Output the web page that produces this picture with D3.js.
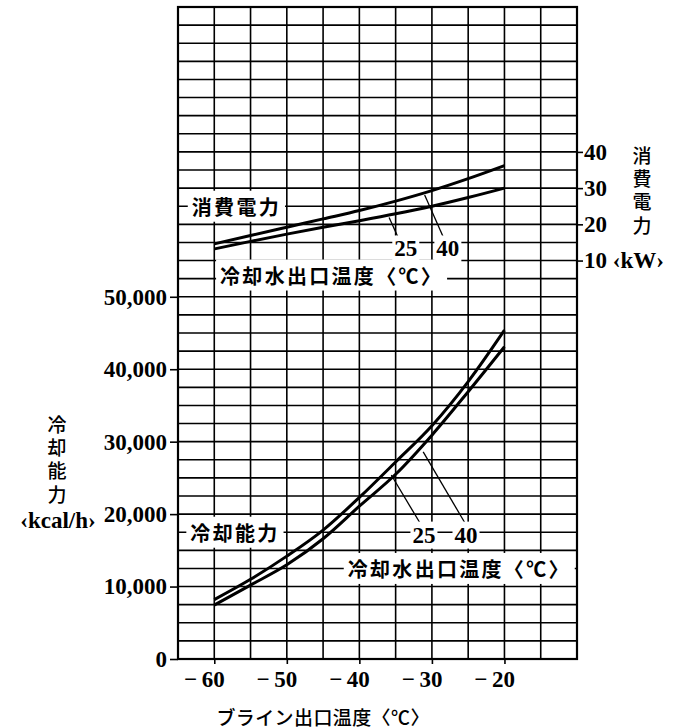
<!DOCTYPE html>
<html><head><meta charset="utf-8">
<script src="https://cdn.jsdelivr.net/npm/d3@7"></script>
<style>body{margin:0;background:#fff} svg{display:block}</style>
</head><body>
<script>
// ---- data ----
const brineTemp = [-60, -55, -50, -45, -40, -35, -30, -25, -20];
const power25 = [13.2, 15.3, 17.3, 19.2, 21.0, 22.9, 25.0, 27.4, 30.0];
const power40 = [14.6, 16.9, 19.2, 21.5, 23.8, 26.4, 29.3, 32.6, 36.2];
const capacity25 = [8200, 11000, 14200, 17800, 22300, 27200, 32200, 38300, 45400];
const capacity40 = [7450, 10200, 13000, 16600, 21100, 25500, 30900, 36900, 43100];
const xTicks = [-60, -50, -40, -30, -20];
const capTicks = [0, 10000, 20000, 30000, 40000, 50000];
const kwTicks = [10, 20, 30, 40];
const coolWaterTemps = ["25", "40"];

const SERIF = "'Liberation Serif','Times New Roman',serif";
const CJK = "'Noto Sans CJK JP','Noto Sans CJK SC',sans-serif";

const W = 674, H = 728;
const svg = d3.select("body").append("svg").attr("width", W).attr("height", H);

const x = d3.scaleLinear().domain([-65, -10]).range([178, 577]);
const y = d3.scaleLinear().domain([0, 90000]).range([659, 7]);
const yKW = d3.scaleLinear().domain([0, 80]).range([y(50000), y(90000)]);

// ---- grid ----
const grid = svg.append("g").attr("stroke", "#000").attr("stroke-width", 1.6);
grid.selectAll("line.v").data(d3.range(-65, -9, 5)).join("line")
  .attr("x1", d => x(d)).attr("x2", d => x(d)).attr("y1", y(0)).attr("y2", y(90000));
grid.selectAll("line.h").data(d3.range(0, 90001, 2500)).join("line")
  .attr("y1", d => y(d)).attr("y2", d => y(d)).attr("x1", x(-65)).attr("x2", x(-10));
svg.append("rect").attr("x", x(-65)).attr("y", y(90000))
  .attr("width", x(-10) - x(-65)).attr("height", y(0) - y(90000))
  .attr("fill", "none").attr("stroke", "#000").attr("stroke-width", 2.2);

// ---- axes ----
function styleAxis(g) {
  g.select(".domain").remove();
  g.selectAll(".tick line").attr("stroke", "#000").attr("stroke-width", 1.6);
  g.selectAll(".tick text").attr("font-family", SERIF).attr("font-weight", "bold")
    .attr("font-size", 23).attr("fill", "#000");
}
const axL = svg.append("g").attr("transform", `translate(${x(-65)},0)`)
  .call(d3.axisLeft(y).tickValues(capTicks).tickSize(8).tickPadding(3)
    .tickFormat(d3.format(",")));
styleAxis(axL);

const axR = svg.append("g").attr("transform", `translate(${x(-10)},0)`)
  .call(d3.axisRight(yKW).tickValues(kwTicks).tickSize(6).tickPadding(1)
    .tickFormat(d => d === 10 ? "10 \u2039kW\u203A" : String(d)));
styleAxis(axR);

const axB = svg.append("g").attr("transform", `translate(0,${y(0)})`)
  .call(d3.axisBottom(x).tickValues(xTicks).tickSize(5)
    .tickFormat(d => "\u2212\u2009" + Math.abs(d)));
styleAxis(axB);
axB.selectAll(".tick text").attr("text-anchor", "end").attr("x", 10).attr("y", 12);

// axis titles
svg.append("text").attr("x", x(-45)).attr("y", 716).attr("dominant-baseline", "central")
  .attr("text-anchor", "middle").attr("font-family", CJK).attr("font-size", 19)
  .attr("font-weight", 500).attr("letter-spacing", 0.4).text("ブライン出口温度〈℃〉");

function verticalTitle(txt, cx, yTop) {
  svg.append("text").attr("x", cx).attr("y", yTop)
    .style("writing-mode", "vertical-rl").attr("text-anchor", "start")
    .attr("font-family", CJK).attr("font-size", 19).attr("font-weight", 500)
    .attr("letter-spacing", 4.3).text(txt);
}
verticalTitle("冷却能力", 57, 415);
svg.append("text").attr("x", 58).attr("y", 520).attr("dominant-baseline", "central")
  .attr("text-anchor", "middle").attr("font-family", SERIF).attr("font-weight", "bold")
  .attr("font-size", 23).text("\u2039kcal/h\u203A");
verticalTitle("消費電力", 642, 146);

// ---- curves ----
const pts = vals => brineTemp.map((t, i) => [t, vals[i]]);
const lineCap = d3.line().x(d => x(d[0])).y(d => y(d[1])).curve(d3.curveMonotoneX);
const linePow = d3.line().x(d => x(d[0])).y(d => yKW(d[1])).curve(d3.curveMonotoneX);
const curves = svg.append("g").attr("fill", "none").attr("stroke", "#000")
  .attr("stroke-width", 3).attr("stroke-linecap", "butt");
[power25, power40].forEach(v => curves.append("path").attr("d", linePow(pts(v))));
[capacity25, capacity40].forEach(v => curves.append("path").attr("d", lineCap(pts(v))));

// ---- leaders ----
const leaders = svg.append("g").attr("stroke", "#000").attr("stroke-width", 1.3);
const powLeaders = [[[-35.9, 21.9], [-34.5, 15.7]], [[-31.0, 28.1], [-28.3, 15.9]]];
const capLeaders = [[[-35.6, 25400], [-31.6, 18700]], [[-31.2, 28600], [-25.4, 18700]]];
powLeaders.forEach(([a, b]) => leaders.append("line")
  .attr("x1", x(a[0])).attr("y1", yKW(a[1])).attr("x2", x(b[0])).attr("y2", yKW(b[1])));
capLeaders.forEach(([a, b]) => leaders.append("line")
  .attr("x1", x(a[0])).attr("y1", y(a[1])).attr("x2", x(b[0])).attr("y2", y(b[1])));

// ---- labels with white knock-out background ----
function label(txt, px, py, opt) {
  const g = svg.append("g");
  const t = g.append("text").attr("x", px).attr("y", py).attr("dominant-baseline", "central")
    .attr("text-anchor", opt.anchor || "start").attr("font-family", opt.font)
    .attr("font-size", opt.size).attr("font-weight", opt.weight || "bold")
    .attr("letter-spacing", opt.ls || 0).text(txt);
  const b = t.node().getBBox();
  const p = opt.pad || 3;
  g.insert("rect", "text").attr("x", b.x - p).attr("y", b.y - 1)
    .attr("width", b.width + 2 * p).attr("height", b.height + 2).attr("fill", "#fff");
}
const cjkOpt = { font: CJK, size: 20, ls: 2.3, weight: "bold", pad: 4 };
label("消費電力", x(-63.1), y(62500), cjkOpt);
label("冷却水出口温度〈℃〉", x(-59.2), y(53000), cjkOpt);
label("冷却能力", x(-63.3), y(17500), cjkOpt);
label("冷却水出口温度〈℃〉", x(-41.6), y(12500), cjkOpt);

const numOpt = { font: SERIF, size: 23, anchor: "middle", pad: 2 };
label(coolWaterTemps[0], x(-33.6), yKW(13.2), numOpt);
label(coolWaterTemps[1], x(-27.8), yKW(13.2), numOpt);
label(coolWaterTemps[0], x(-31.1), y(17100), numOpt);
label(coolWaterTemps[1], x(-25.3), y(17100), numOpt);
</script>
</body></html>
